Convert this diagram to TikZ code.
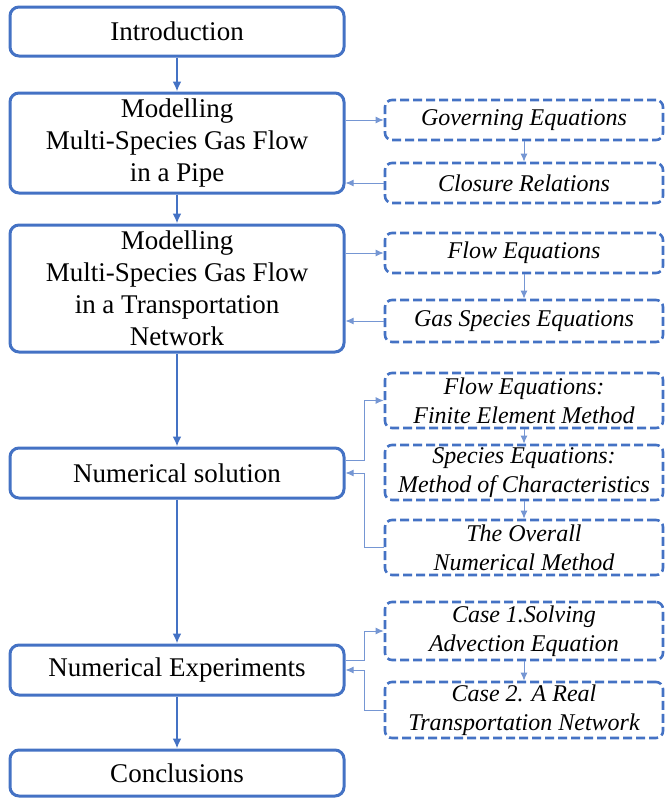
\documentclass[tikz,border=0pt]{standalone}
\usepackage{fontspec}
\setmainfont{Liberation Serif}
\usetikzlibrary{arrows.meta}
\definecolor{boxblue}{HTML}{4472C4}
\definecolor{linkblue}{HTML}{7596D3}

\begin{document}
\begin{tikzpicture}[x=1pt,y=-1pt,
      mainbox/.style={draw=boxblue,line width=3pt,rounded corners=9pt,minimum width=334pt,
                    align=center,inner sep=0pt,font=\fontsize{27}{32}\selectfont},
      subbox/.style={draw=boxblue,line width=2.6pt,dash pattern=on 9pt off 4pt,rounded corners=7pt,
                    minimum width=278pt,align=center,inner sep=0pt,font=\itshape\fontsize{24}{29}\selectfont},
      flow/.style={-{Latex[length=10pt,width=9pt]},line width=2.6pt,draw=boxblue},
      link/.style={-{Latex[length=8pt,width=7pt]},line width=1pt,draw=linkblue}]
    \useasboundingbox (0,0) rectangle (666,798);
    % main chain
    \node[mainbox,minimum height=49pt] (intro) at (177,31.5) {Introduction};
    \node[mainbox,minimum height=100pt] (pipe) at (177,143) {Modelling\\Multi-Species Gas Flow\\in a Pipe};
    \node[mainbox,minimum height=127pt] (net) at (177,288.5) {Modelling\\Multi-Species Gas Flow\\in a Transportation\\Network};
    \node[mainbox,minimum height=50pt] (numsol) at (177,473) {Numerical solution};
    \node[mainbox,minimum height=50pt] (numexp) at (177,670) {Numerical Experiments};
    \node[mainbox,minimum height=46pt] (concl) at (177,773) {Conclusions};
    \draw[flow] (intro.south) -- (pipe.north);
    \draw[flow] (pipe.south) -- (net.north);
    \draw[flow] (net.south) -- (numsol.north);
    \draw[flow] (numsol.south) -- (numexp.north);
    \draw[flow] (numexp.south) -- (concl.north);
    % pipe model
    \node[subbox,minimum height=40pt] (gov) at (524,120) {Governing Equations};
    \node[subbox,minimum height=40pt] (clos) at (524,183) {Closure Relations};
    \draw[link] (pipe.east |- gov.west) -- (gov.west);
    \draw[link] (gov.south) -- (clos.north);
    \draw[link] (clos.west) -- (pipe.east |- clos.west);
    % network model
    \node[subbox,minimum height=40pt] (floweq) at (524,253) {Flow Equations};
    \node[subbox,minimum height=42pt] (gaseq) at (524,321) {Gas Species Equations};
    \draw[link] (net.east |- floweq.west) -- (floweq.west);
    \draw[link] (floweq.south) -- (gaseq.north);
    \draw[link] (gaseq.west) -- (net.east |- gaseq.west);
    % numerics
    \node[subbox,minimum height=55pt] (fem) at (524,400.5) {Flow Equations:\\Finite Element Method};
    \node[subbox,minimum height=55pt] (moc) at (524,472.5) {Species Equations:\\Method of Characteristics};
    \node[subbox,minimum height=55pt] (overall) at (524,547.5) {The Overall\\Numerical Method};
    \coordinate (solbend) at ([xshift=19pt]numsol.east);
    \draw[link] ([yshift=13pt]numsol.east) -| (solbend |- fem.west) -- (fem.west);
    \draw[link] (fem.south) -- (moc.north);
    \draw[link] (moc.south) -- (overall.north);
    \draw[link] (overall.west) -| (solbend) -- (numsol.east);
    % experiments
    \node[subbox,minimum height=58pt] (case1) at (524,631) {Case 1.Solving\\Advection Equation};
    \node[subbox,minimum height=56pt] (case2) at (524,710) {Case 2. A Real\\Transportation Network};
    \coordinate (expbend) at ([xshift=19pt]numexp.east);
    \draw[link] ([yshift=10pt]numexp.east) -| (expbend |- case1.west) -- (case1.west);
    \draw[link] (case1.south) -- (case2.north);
    \draw[link] (case2.west) -| (expbend) -- (numexp.east);
\end{tikzpicture}
\end{document}
